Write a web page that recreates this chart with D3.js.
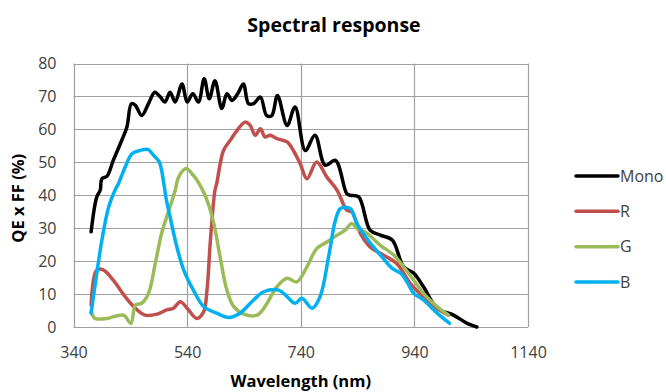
<!DOCTYPE html>
<html><head><meta charset="utf-8">
<script src="https://cdn.jsdelivr.net/npm/d3@7"></script>
<style>body{margin:0;background:#fff;} svg{display:block;}</style>
</head><body>
<svg id="c" width="666" height="392"></svg>
<script>
const seriesNames = ["Mono", "R", "G", "B"];
const seriesColors = ["#000000", "#c0504d", "#9bbb59", "#00b0f0"];
const xTicks = [340, 540, 740, 940, 1140];
const yTicks = [0, 10, 20, 30, 40, 50, 60, 70, 80];

const monoWl = [371,381,387,390,399,410,425,434,442,449,460,472,483,493,501,510,519,531,540,550,560,570,579,589,601,610,619,629,639,648,657,669,680,689,699,716,730,748,765,783,801,821,827,842,862,880,901,921,939,956,980,1009,1033,1050];
const monoVal = [28.9,39.5,41.5,45,45.8,50.6,56.7,60.7,67.8,67.3,64.2,67.8,71.3,69.8,68.3,71.3,68.3,73.8,68.3,70.8,68.3,75.4,69.3,74.8,66.3,70.8,68.8,70.8,73.8,67.8,67.8,69.8,64.2,64.2,70.3,61.2,66.8,53.6,58.2,49.1,50.6,40.5,40,39.5,29.4,27.9,26.4,18.3,16.3,12.2,5.7,3.6,1.1,0];

const rWl = [371,381,393,410,431,449,466,487,504,516,528,540,557,569,575,581,589,592,604,616,628,642,651,660,669,677,686,698,716,727,739,751,768,786,804,821,830,845,862,886,909,933,956,980,1000];
const rVal = [6.7,17.3,17.3,14.2,9.2,5.7,3.6,3.9,5.2,5.7,7.7,5.7,2.6,4.6,11.2,26.4,41.5,43.5,53.6,56.7,59.7,62.2,61.2,58.2,60.2,57.7,58.2,57.2,56.2,53.6,49.6,45,50.1,45.5,41.5,35.5,34.9,28.4,24.3,21.8,19.3,13.2,9.2,5.7,3.6];

const gWl = [371,378,399,428,441,449,460,472,484,495,510,519,525,538,551,566,575,587,598,610,622,640,663,677,698,716,733,751,768,786,804,818,830,839,857,880,904,921,939,956,980,1000];
const gVal = [4.6,2.6,2.6,3.6,1.1,6.7,7.2,10.2,19.3,28.4,36.5,41.5,45.5,48.1,46,42,38.5,31.4,21.3,11.2,6.2,3.9,3.6,6.2,12.2,14.8,13.7,18.3,23.8,25.8,27.9,29.4,31.4,29.9,28.4,24.8,21.8,18.3,14.2,10.2,6.2,3.6];

const bWl = [371,381,390,402,413,419,431,443,457,471,481,491,499,503,510,522,534,551,569,592,613,633,657,675,701,716,730,742,760,774,789,801,810,827,839,854,868,883,901,916,927,939,956,980,1002];
const bVal = [4.2,16.3,26.4,36.5,41.5,43.5,48.6,52.6,53.6,53.9,52.1,50.1,43.5,39,33.4,24.3,17.3,11.2,6.2,4.2,2.9,4.2,8.2,10.7,11.2,9.2,7.2,8.7,5.7,9.2,21.3,32.4,36,36,31.4,27.4,24.3,21.3,17.8,16.3,13.7,10.2,8.2,4.2,1.1];

const seriesWl = [monoWl, rWl, gWl, bWl];
const seriesVal = [monoVal, rVal, gVal, bVal];

const svg = d3.select("#c");
const L = 73.5, R = 528, T = 63.5, B = 327;
const x = d3.scaleLinear().domain([340, 1140]).range([L, R]);
const y = d3.scaleLinear().domain([0, 80]).range([B, T]);
const font = "'Open Sans', 'Liberation Sans', sans-serif";
const grid = "#a0a0a0";

// grid
svg.append("g").selectAll("line").data(yTicks).join("line")
  .attr("x1", L).attr("x2", R).attr("y1", d => Math.round(y(d)) + 0.5).attr("y2", d => Math.round(y(d)) + 0.5)
  .attr("stroke", grid).attr("stroke-width", 1.2);
svg.append("g").selectAll("line").data(xTicks).join("line")
  .attr("y1", T).attr("y2", B).attr("x1", d => Math.round(x(d)) + 0.5).attr("x2", d => Math.round(x(d)) + 0.5)
  .attr("stroke", grid).attr("stroke-width", 1.2);

// axes (labels only)
const yAxis = d3.axisLeft(y).tickValues(yTicks).tickSize(0).tickPadding(17).tickFormat(d3.format("d"));
const gy = svg.append("g").attr("transform", `translate(${L},0)`).call(yAxis);
gy.select(".domain").remove();
gy.selectAll("text").attr("font-family", font).attr("font-size", 16).attr("fill", "#404040");

const xAxis = d3.axisBottom(x).tickValues(xTicks).tickSize(0).tickPadding(20).tickFormat(d3.format("d"));
const gx = svg.append("g").attr("transform", `translate(0,${B})`).call(xAxis);
gx.select(".domain").remove();
gx.selectAll("text").attr("font-family", font).attr("font-size", 16).attr("fill", "#404040");

// lines
const line = d3.line().x(d => x(d[0])).y(d => y(d[1])).curve(d3.curveCatmullRom.alpha(0.5));
seriesNames.forEach((name, i) => {
  const pts = seriesWl[i].map((w, j) => [w, seriesVal[i][j]]);
  svg.append("path").datum(pts).attr("d", line)
    .attr("fill", "none").attr("stroke", seriesColors[i]).attr("stroke-width", 3.5)
    .attr("stroke-linejoin", "round").attr("stroke-linecap", "round");
});

// title & axis labels
svg.append("text").attr("x", 334).attr("y", 32).attr("text-anchor", "middle")
  .attr("font-family", font).attr("font-weight", "bold").attr("font-size", 19.5).attr("fill", "#000")
  .text("Spectral response");
svg.append("text").attr("x", (L + R) / 2).attr("y", 387).attr("text-anchor", "middle")
  .attr("font-family", font).attr("font-weight", "bold").attr("font-size", 16.5).attr("fill", "#000")
  .text("Wavelength (nm)");
svg.append("text").attr("transform", `translate(24,${(T + B) / 2 + 3}) rotate(-90)`).attr("text-anchor", "middle")
  .attr("font-family", font).attr("font-weight", "bold").attr("font-size", 16.5).attr("fill", "#000")
  .text("QE x FF (%)");

// legend
const legY = d3.scalePoint().domain(seriesNames).range([176, 282]);
const lg = svg.append("g");
seriesNames.forEach((name, i) => {
  lg.append("line").attr("x1", 576).attr("x2", 618).attr("y1", legY(name)).attr("y2", legY(name))
    .attr("stroke", seriesColors[i]).attr("stroke-width", 3.5).attr("stroke-linecap", "round");
  lg.append("text").attr("x", 620).attr("y", legY(name)).attr("dy", "0.35em")
    .attr("font-family", font).attr("font-size", 16).attr("fill", "#404040").text(name);
});
</script>
</body></html>
